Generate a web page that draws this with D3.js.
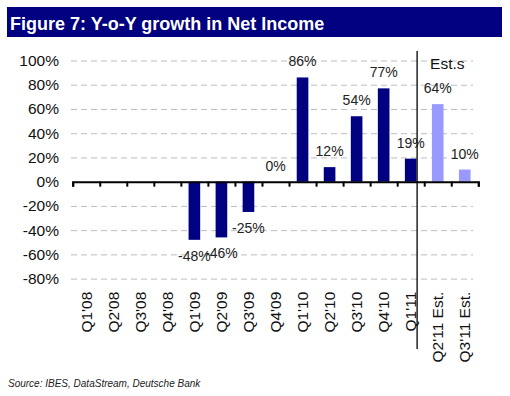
<!DOCTYPE html>
<html>
<head>
<meta charset="utf-8">
<script src="https://cdn.jsdelivr.net/npm/d3@7"></script>
<style>
  html, body { margin: 0; padding: 0; background: #fff; }
  svg { display: block; font-family: "Liberation Sans", Arial, Helvetica, sans-serif; }
</style>
</head>
<body>
<svg id="chart" width="510" height="396"></svg>
<script>
const categories = ["Q1'08","Q2'08","Q3'08","Q4'08","Q1'09","Q2'09","Q3'09","Q4'09","Q1'10","Q2'10","Q3'10","Q4'10","Q1'11","Q2'11 Est.","Q3'11 Est."];
const values = [null, null, null, null, -48, -46, -25, 0, 86, 12, 54, 77, 19, 64, 10];
const estimate = [false,false,false,false,false,false,false,false,false,false,false,false,false,true,true];
const yTicks = [-80, -60, -40, -20, 0, 20, 40, 60, 80, 100];
const titleText = "Figure 7: Y-o-Y growth in Net Income";
const sourceText = "Source: IBES, DataStream, Deutsche Bank";
const estLabel = "Est.s";

const svg = d3.select("#chart");
const navy = "#000080", light = "#9999ff";

// Title bar
svg.append("rect").attr("x", 7).attr("y", 7).attr("width", 495).attr("height", 30).attr("fill", navy);
svg.append("text").attr("x", 10).attr("y", 29.5).attr("fill", "#fff")
  .attr("font-size", 18).attr("font-weight", "bold").text(titleText);

const x0 = 72.7, x1 = 478.3;
const x = d3.scaleBand().domain(categories).range([x0, x1]).padding(0);
const xi = d3.scaleLinear().domain([0, categories.length]).range([x0, x1]);
const y = d3.scaleLinear().domain([-80, 100]).range([278.6, 60.5]);
const bw = x.bandwidth();
const barW = bw * 0.43;

// Gridlines
const grid = svg.append("g").attr("transform", "translate(71,0)")
  .call(d3.axisLeft(y).tickValues(yTicks.filter(d => d !== 0)).tickSize(-(473 - 71)).tickFormat(""));
grid.select(".domain").remove();
grid.selectAll(".tick line").attr("stroke", "#bdbdbd").attr("stroke-width", 1).attr("stroke-dasharray", "6,4");

// Y tick labels
const yAx = svg.append("g").attr("transform", "translate(71,0)")
  .call(d3.axisLeft(y).tickValues(yTicks).tickSize(0).tickPadding(12).tickFormat(d => d + "%"));
yAx.select(".domain").remove();
yAx.selectAll("text").attr("font-size", 15.5).attr("fill", "#111")
  .attr("font-family", "'Liberation Sans', Arial, sans-serif");

// Bars
const data = categories.map((c, i) => ({c, v: values[i], est: estimate[i]})).filter(d => d.v !== null);
svg.append("g").selectAll("rect").data(data).join("rect")
  .attr("x", d => x(d.c) + bw / 2 - barW / 2)
  .attr("width", barW)
  .attr("y", d => y(Math.max(0, d.v)))
  .attr("height", d => Math.abs(y(d.v) - y(0)))
  .attr("fill", d => d.est ? light : navy);

// Zero axis with ticks
const xAx = svg.append("g").attr("transform", `translate(0,${y(0)})`)
  .call(d3.axisBottom(xi).tickValues(d3.range(0, categories.length + 1)).tickSize(5).tickFormat(""));
xAx.select(".domain").attr("stroke", "#000").attr("stroke-width", 2);
xAx.selectAll(".tick line").attr("stroke", "#000").attr("stroke-width", 2);

// Data labels
svg.append("g").selectAll("text").data(data).join("text")
  .attr("x", d => x(d.c) + bw / 2)
  .attr("y", d => d.v >= 0 ? y(d.v) - 11 : y(d.v) + 21)
  .attr("text-anchor", "middle")
  .attr("font-size", 14).attr("fill", "#222")
  .text(d => d.v + "%");

// Category labels
svg.append("g").selectAll("text").data(categories).join("text")
  .attr("transform", d => `translate(${x(d) + bw / 2},291.7) rotate(-90)`)
  .attr("dy", "0.36em")
  .attr("text-anchor", "end")
  .attr("font-size", 15.5).attr("fill", "#111")
  .text(d => d);

// Separator line for estimates
const sepX = x("Q1'11") + bw / 2 + barW / 2 + 0.6;
svg.append("line").attr("x1", sepX).attr("x2", sepX).attr("y1", 51).attr("y2", 349)
  .attr("stroke", "#000").attr("stroke-width", 1.3);
svg.append("text").attr("x", sepX + 13).attr("y", 69).attr("font-size", 15.5).attr("fill", "#111").text(estLabel);

// Source
svg.append("text").attr("x", 8).attr("y", 387).attr("font-size", 10).attr("font-style", "italic")
  .attr("fill", "#222").text(sourceText);
</script>
</body>
</html>
